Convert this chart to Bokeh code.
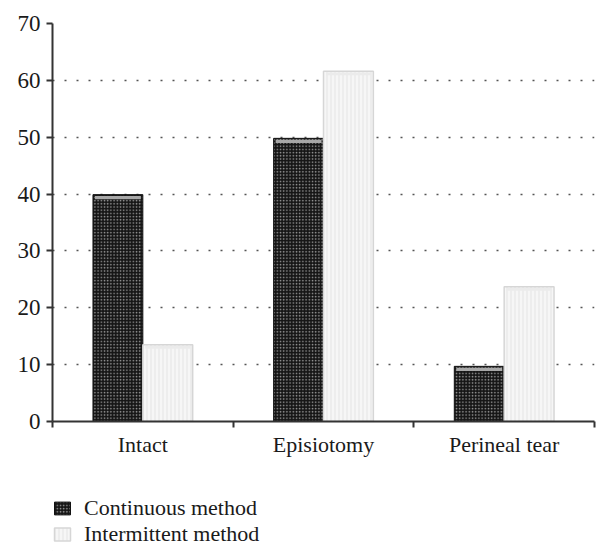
from bokeh.plotting import figure
from bokeh.models import ColumnDataSource, Range1d, FixedTicker, Legend, LegendItem
from bokeh.layouts import column
from bokeh.transform import dodge
from bokeh.embed import file_html
from bokeh.resources import INLINE

categories = ["Intact", "Episiotomy", "Perineal tear"]
continuous = [39.9, 49.8, 9.7]
intermittent = [13.5, 61.6, 23.7]
series_names = ["Continuous method", "Intermittent method"]
y_ticks = [0, 10, 20, 30, 40, 50, 60, 70]

xc = [i + 0.5 for i in range(len(categories))]
src = ColumnDataSource(dict(
    x=xc, cat=categories, cont=continuous, inter=intermittent,
    cont_bt=[v - 0.25 for v in continuous], cont_bb=[v - 0.8 for v in continuous],
    inter_bt=[v - 0.2 for v in intermittent], inter_bb=[v - 0.7 for v in intermittent],
))

FONT = "Liberation Serif"
DARK = dict(fill_color="#151515", line_color="#111111", line_width=1,
            hatch_pattern="dot", hatch_color="#9a9a9a", hatch_scale=3.2, hatch_weight=1.3)
LIGHT = dict(fill_color="#f6f6f6", line_color="#d6d6d6", line_width=1.5,
             hatch_pattern="vertical_line", hatch_color="#e4e4e4", hatch_scale=4, hatch_weight=1)

p = figure(frame_width=542, frame_height=398, output_backend="svg", toolbar_location=None,
           x_range=Range1d(0, len(categories)), y_range=Range1d(0, 70),
           min_border_left=52, min_border_right=6, min_border_top=23, min_border_bottom=40)
p.outline_line_color = None
p.background_fill_color = "white"
p.border_fill_color = "white"

off = 0.138
bw = 0.276
p.vbar(x=dodge("x", -off), top="cont", width=bw, source=src, **DARK)
p.vbar(x=dodge("x", -off), top="cont_bt", bottom="cont_bb", width=bw * 0.92, source=src,
       fill_color="#a8a8a8", line_color=None)
p.vbar(x=dodge("x", off), top="inter", width=bw, source=src, **LIGHT)
p.vbar(x=dodge("x", off), top="inter_bt", bottom="inter_bb", width=bw * 0.9, source=src,
       fill_color="#ebebeb", line_color=None)

# y axis
yax = p.yaxis[0]
yax.ticker = FixedTicker(ticks=y_ticks, minor_ticks=[])
yax.axis_line_color = "#333333"
yax.axis_line_width = 2
yax.major_tick_line_color = "#333333"
yax.major_tick_line_width = 2
yax.major_tick_out = 6
yax.major_tick_in = 0
yax.minor_tick_line_color = None
yax.major_label_standoff = 6
yax.major_label_text_font = FONT
yax.major_label_text_font_size = "23px"
yax.major_label_text_color = "#1a1a1a"

# x axis: labels at centers, ticks at category boundaries
xax = p.xaxis[0]
xax.ticker = FixedTicker(ticks=xc, minor_ticks=list(range(len(categories) + 1)))
xax.major_label_overrides = {x: c for x, c in zip(xc, categories)}
xax.axis_line_color = "#333333"
xax.axis_line_width = 2
xax.major_tick_line_color = None
xax.major_tick_out = 5
xax.major_tick_in = 0
xax.minor_tick_line_color = "#333333"
xax.minor_tick_line_width = 2
xax.minor_tick_out = 6
xax.minor_tick_in = 0
xax.major_label_standoff = 4
xax.major_label_text_font = FONT
xax.major_label_text_font_size = "22px"
xax.major_label_text_color = "#1a1a1a"

p.xgrid.visible = False
p.ygrid.ticker = FixedTicker(ticks=y_ticks[1:])
p.ygrid.grid_line_color = "#555555"
p.ygrid.grid_line_width = 1.5
p.ygrid.grid_line_dash = "2 10"

# legend in a small companion figure below the chart (swatch renderers lie outside its ranges)
lg = figure(width=600, height=90, output_backend="svg", toolbar_location=None,
            x_range=Range1d(0, 1), y_range=Range1d(0, 1),
            x_axis_location=None, y_axis_location=None,
            min_border_left=52, min_border_right=0, min_border_top=34, min_border_bottom=0)
lg.outline_line_color = None
lg.xgrid.visible = False
lg.ygrid.visible = False
swatch = ColumnDataSource(dict(x=[-5], top=[-5]))
k_cont = lg.vbar(x="x", top="top", width=0.1, source=swatch, **DARK)
k_int = lg.vbar(x="x", top="top", width=0.1, source=swatch, **LIGHT)

legend = Legend(items=[LegendItem(label=series_names[0], renderers=[k_cont]),
                       LegendItem(label=series_names[1], renderers=[k_int])],
                location="top_left", orientation="vertical")
legend.label_text_font = FONT
legend.label_text_font_size = "22px"
legend.label_text_color = "#1a1a1a"
legend.glyph_width = 20
legend.glyph_height = 16
legend.label_standoff = 12
legend.spacing = 0
legend.padding = 0
legend.margin = 0
legend.border_line_color = None
legend.background_fill_alpha = 0
legend.label_height = 22
lg.add_layout(legend, "center")

layout = column(p, lg, spacing=0)
open("out.html", "w").write(file_html(layout, INLINE))
